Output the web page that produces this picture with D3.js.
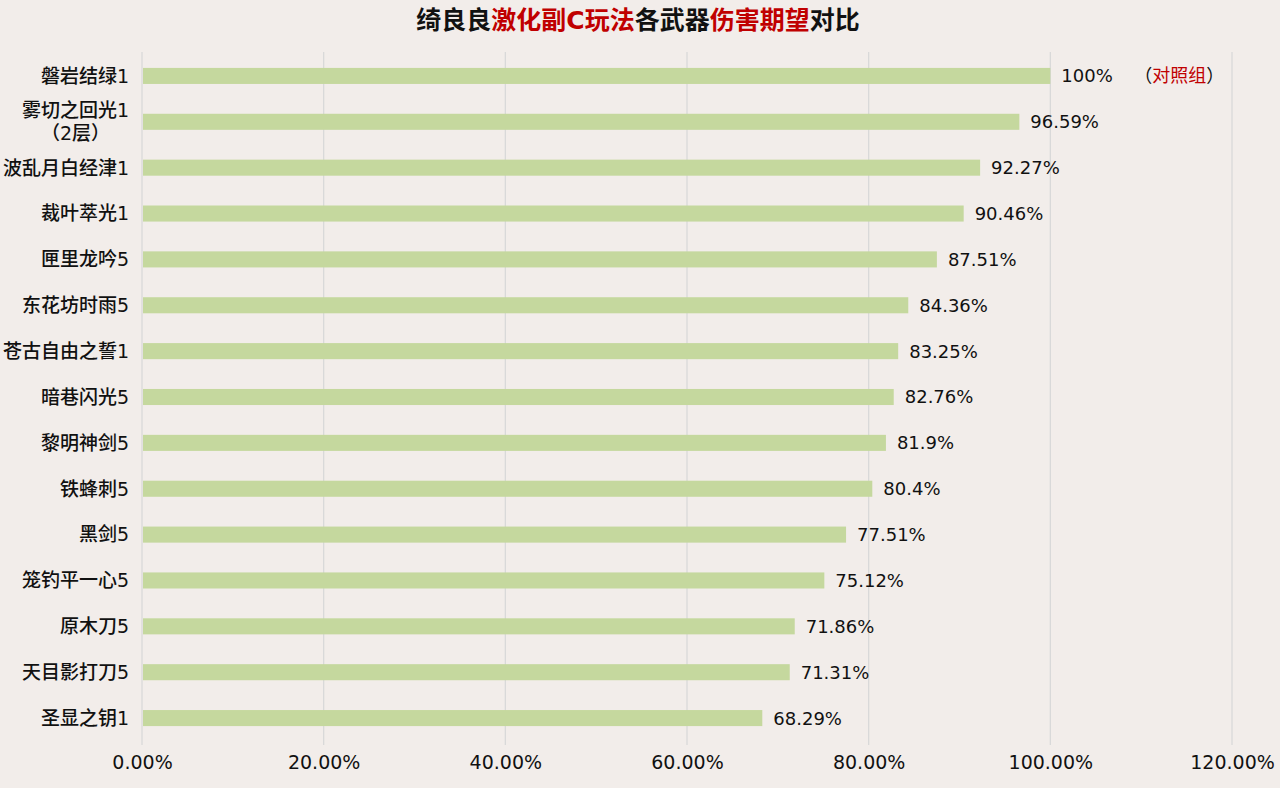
<!DOCTYPE html>
<html>
<head>
<meta charset="utf-8">
<script src="https://d3js.org/d3.v7.min.js"></script>
<style>
  body { margin: 0; background: #f2edea; }
  svg { display: block; }
</style>
</head>
<body>
<svg id="chart" width="1280" height="788"></svg>
<script>
// weapons, top to bottom
var weapons = ["磐岩结绿1", "雾切之回光1\n（2层）", "波乱月白经津1", "裁叶萃光1", "匣里龙吟5",
  "东花坊时雨5", "苍古自由之誓1", "暗巷闪光5", "黎明神剑5", "铁蜂刺5",
  "黑剑5", "笼钓平一心5", "原木刀5", "天目影打刀5", "圣显之钥1"];
var ratios = [100, 96.59, 92.27, 90.46, 87.51, 84.36, 83.25, 82.76, 81.9, 80.4,
  77.51, 75.12, 71.86, 71.31, 68.29];
var ticks = [0, 20, 40, 60, 80, 100, 120];

var svg = d3.select("#chart");
var font = "'DejaVu Sans', 'Noto Sans CJK SC', sans-serif";

var x = d3.scaleLinear().domain([0, 120]).range([142, 1232]);
var y = d3.scaleBand().domain(d3.range(weapons.length)).range([53, 741]).paddingInner(0.65).paddingOuter(0.325);

// title
var title = svg.append("text")
  .attr("x", 638).attr("y", 29)
  .attr("text-anchor", "middle")
  .style("font-family", font).style("font-size", "25px").style("font-weight", "bold")
  .attr("fill", "#111");
[["绮良良", "#111"], ["激化副C玩法", "#c00000"], ["各武器", "#111"], ["伤害期望", "#c00000"], ["对比", "#111"]]
  .forEach(function (p) { title.append("tspan").attr("fill", p[1]).text(p[0]); });

// grid
svg.append("g").selectAll("line").data(ticks).join("line")
  .attr("x1", d => x(d)).attr("x2", d => x(d))
  .attr("y1", 52).attr("y2", 745)
  .attr("stroke", "#d9d9d9").attr("stroke-width", 1.3);

// x axis labels
var xAxis = d3.axisBottom(x).tickValues(ticks).tickSize(0).tickPadding(0)
  .tickFormat(d => d.toFixed(2) + "%");
svg.append("g").attr("transform", "translate(0,755)").call(xAxis)
  .call(g => g.select(".domain").remove())
  .selectAll("text")
  .style("font-family", font).style("font-size", "19px").attr("fill", "#111");

// bars
svg.append("g").selectAll("rect").data(ratios).join("rect")
  .attr("x", x(0) + 1)
  .attr("y", (d, i) => y(i))
  .attr("width", d => x(d) - x(0) - 1)
  .attr("height", y.bandwidth())
  .attr("fill", "#c5d89e");

// value labels
svg.append("g").selectAll("text").data(ratios).join("text")
  .attr("x", d => x(d) + 11)
  .attr("y", (d, i) => y(i) + y.bandwidth() / 2)
  .attr("dy", "0.36em")
  .style("font-family", font).style("font-size", "18px")
  .attr("fill", "#111")
  .text(d => d + "%");

// control group note
var note = svg.append("text")
  .attr("x", x(ratios[0]) + 84)
  .attr("y", y(0) + y.bandwidth() / 2)
  .attr("dy", "0.36em")
  .style("font-family", font).style("font-size", "18px")
  .attr("fill", "#111");
note.append("tspan").text("（");
note.append("tspan").attr("fill", "#c00000").text("对照组");
note.append("tspan").text("）");

// category labels; wrapped second line is centred under the first
var labels = svg.append("g");
weapons.forEach(function (d, i) {
  var lines = d.split("\n");
  var cy = y(i) + y.bandwidth() / 2;
  var step = 23;
  var first = null;
  lines.forEach(function (l, j) {
    var t = labels.append("text")
      .attr("y", cy + (j - (lines.length - 1) / 2) * step)
      .attr("dy", "0.36em")
      .style("font-family", font).style("font-size", "19px").style("font-weight", "500")
      .attr("fill", "#111")
      .text(l);
    if (j === 0) {
      t.attr("x", 129).attr("text-anchor", "end");
      first = t.node().getComputedTextLength();
    } else {
      t.attr("x", 129 - first / 2).attr("text-anchor", "middle");
    }
  });
});
</script>
</body>
</html>
